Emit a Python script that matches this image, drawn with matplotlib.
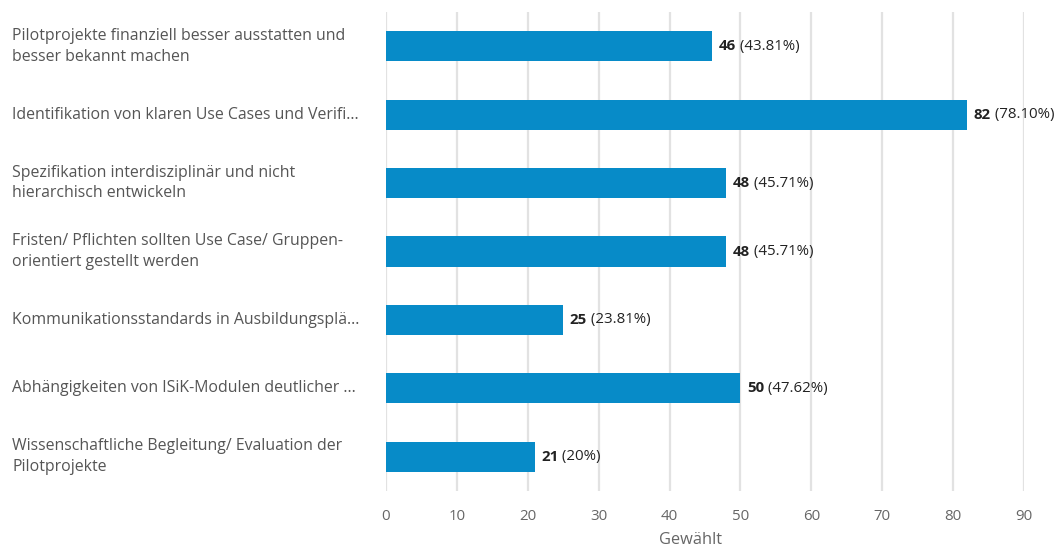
import matplotlib.pyplot as plt

plt.rcParams['font.family'] = ['Open Sans', 'DejaVu Sans']

labels = [
    'Pilotprojekte finanziell besser ausstatten und\nbesser bekannt machen',
    'Identifikation von klaren Use Cases und Verifi...',
    'Spezifikation interdisziplinär und nicht\nhierarchisch entwickeln',
    'Fristen/ Pflichten sollten Use Case/ Gruppen-\norientiert gestellt werden',
    'Kommunikationsstandards in Ausbildungsplä...',
    'Abhängigkeiten von ISiK-Modulen deutlicher ...',
    'Wissenschaftliche Begleitung/ Evaluation der\nPilotprojekte',
]
counts = [46, 82, 48, 48, 25, 50, 21]
shares = ['43.81%', '78.10%', '45.71%', '45.71%', '23.81%', '47.62%', '20%']
ticks = [0, 10, 20, 30, 40, 50, 60, 70, 80, 90]

fig = plt.figure(figsize=(10.59, 5.52), dpi=100)
ax = fig.add_axes([386 / 1059, 1 - 491 / 552, (1024 - 386) / 1059, (491 - 12) / 552])

ypos = list(range(len(labels)))
ax.barh(ypos, counts, height=0.44, color='#078bc8', zorder=3)
ax.set_ylim(len(labels) - 0.5, -0.5)
ax.set_xlim(0, 90)

ax.set_xticks(ticks)
ax.grid(axis='x', color='#e2e2e2', linewidth=1.6, zorder=0)
ax.tick_params(axis='x', length=0, pad=13, labelsize=10.8, labelcolor='#666666')
ax.tick_params(axis='y', length=0)
ax.set_yticks(ypos)
ax.set_yticklabels([])
for s in ax.spines.values():
    s.set_visible(False)

# category labels, left-aligned at the figure edge
fig_h = fig.get_size_inches()[1] * fig.dpi
for y, lab in zip(ypos, labels):
    fig.text(12 / 1059, ax.transData.transform((0, y))[1] / fig_h,
             lab, ha='left', va='center', fontsize=11.4, color='#555555',
             linespacing=1.4)

# value labels: bold count plus share in brackets
for y, c, s in zip(ypos, counts, shares):
    t = ax.text(c + 0.9, y, str(c), ha='left', va='center', fontsize=10.8,
                fontweight='bold', color='#222222', clip_on=False)
    ax.annotate(' (' + s + ')', xy=(1, 0.5), xycoords=t, ha='left', va='center',
                fontsize=10.8, color='#222222', annotation_clip=False)

ax.set_xlabel('Gewählt', fontsize=11.8, color='#666666', labelpad=6)
ax.xaxis.set_label_coords((691 - 386) / (1024 - 386), -0.085)

fig.savefig('out.png', dpi=100, facecolor='white')
